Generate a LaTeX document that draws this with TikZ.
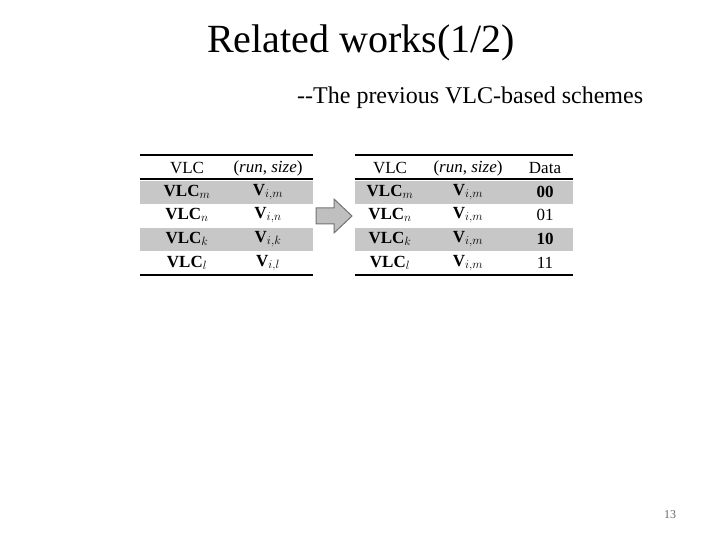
\documentclass[tikz,border=0pt]{standalone}
\usepackage{fontspec}
\setmainfont{Liberation Serif}
\begin{document}
\begin{tikzpicture}[x=1pt,y=-1pt,
 cell/.style={font=\fontsize{17}{19}\selectfont,anchor=center,inner sep=0},
 hd/.style={font=\fontsize{17}{19}\selectfont,anchor=center,inner sep=0},
 shade/.style={fill=black!22,draw=none}]
\useasboundingbox (0,0) rectangle (720,540);
\node[anchor=center,font=\fontsize{40}{44}\selectfont] (title) at (361,43) {Related works(1/2)};
\node[anchor=west,font=\fontsize{24}{28}\selectfont,inner sep=0] (sub) at (297,98) {-{}-The previous VLC-based schemes};
\node[anchor=center,font=\fontsize{12}{14}\selectfont,text=black!60] (pg) at (670,515) {13};
% left table
\fill[shade] (140,181) rectangle (313,204);
\fill[shade] (140,228) rectangle (313,251);
\draw[line width=1.8pt] (140,155) -- (313,155);
\draw[line width=1.8pt] (140,179) -- (313,179);
\draw[line width=1.8pt] (140,275) -- (313,275);
\node[hd] (lh1) at (187,168) {VLC};
\node[hd] (lh2) at (268,168) {(\textit{run}, \textit{size})};
\node[cell] (l11) at (187,192) {\textbf{VLC}$_m$}; \node[cell] (l12) at (268,192) {\textbf{V}$_{i,m}$};
\node[cell] (l21) at (187,215) {\textbf{VLC}$_n$}; \node[cell] (l22) at (268,215) {\textbf{V}$_{i,n}$};
\node[cell] (l31) at (187,239) {\textbf{VLC}$_k$}; \node[cell] (l32) at (268,239) {\textbf{V}$_{i,k}$};
\node[cell] (l41) at (187,263) {\textbf{VLC}$_l$}; \node[cell] (l42) at (268,263) {\textbf{V}$_{i,l}$};
% arrow
\draw[draw=black!55,fill=black!25,line width=1pt] (316,208) -- (334,208) -- (334,199) -- (352,216) -- (334,233) -- (334,224) -- (316,224) -- cycle;
% right table
\fill[shade] (355,181) rectangle (573,204);
\fill[shade] (355,228) rectangle (573,251);
\draw[line width=1.8pt] (355,155) -- (573,155);
\draw[line width=1.8pt] (355,179) -- (573,179);
\draw[line width=1.8pt] (355,275) -- (573,275);
\node[hd] (rh1) at (390,168) {VLC};
\node[hd] (rh2) at (468,168) {(\textit{run}, \textit{size})};
\node[hd] (rh3) at (545,168) {Data};
\node[cell] (r11) at (390,192) {\textbf{VLC}$_m$}; \node[cell] (r12) at (468,192) {\textbf{V}$_{i,m}$}; \node[cell] (r13) at (545,192) {\textbf{00}};
\node[cell] (r21) at (390,215) {\textbf{VLC}$_n$}; \node[cell] (r22) at (468,215) {\textbf{V}$_{i,m}$}; \node[cell] (r23) at (545,215) {01};
\node[cell] (r31) at (390,239) {\textbf{VLC}$_k$}; \node[cell] (r32) at (468,239) {\textbf{V}$_{i,m}$}; \node[cell] (r33) at (545,239) {\textbf{10}};
\node[cell] (r41) at (390,263) {\textbf{VLC}$_l$}; \node[cell] (r42) at (468,263) {\textbf{V}$_{i,m}$}; \node[cell] (r43) at (545,263) {11};
\end{tikzpicture}
\end{document}
